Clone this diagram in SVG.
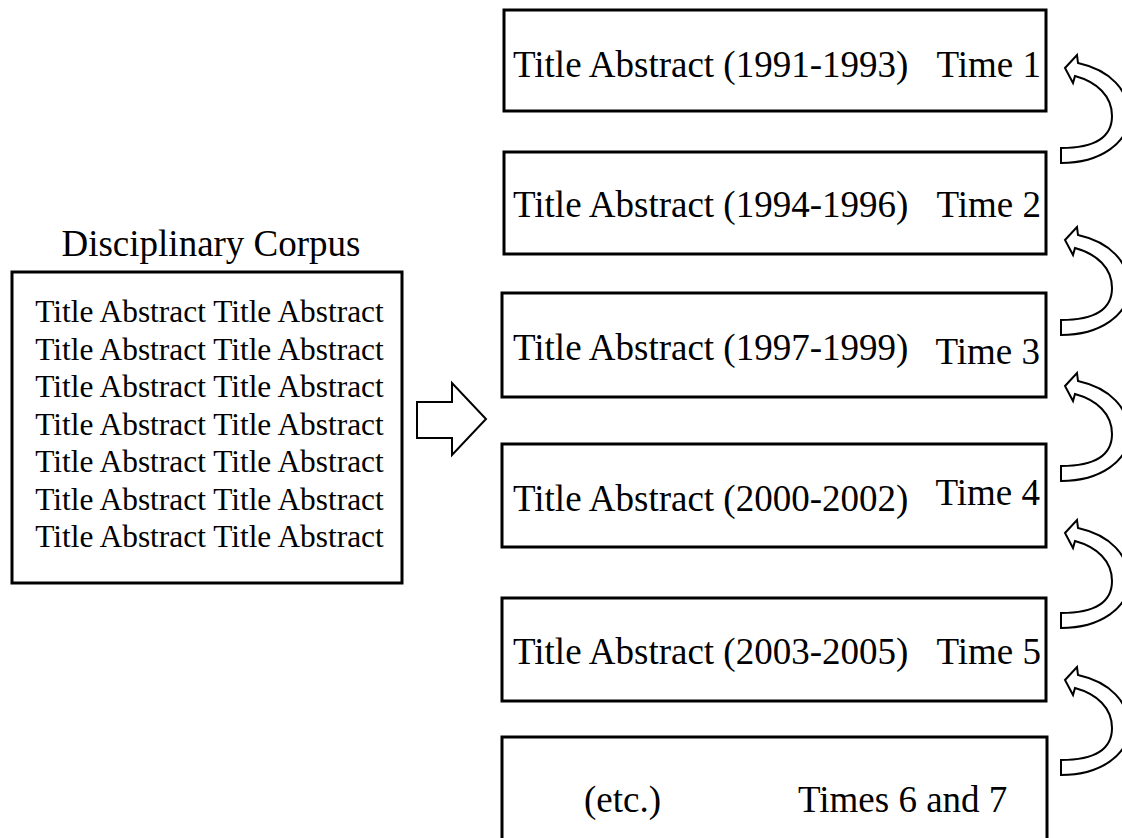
<svg xmlns="http://www.w3.org/2000/svg" width="1122" height="838" viewBox="0 0 1122 838">
<style>
.box{fill:#fff;stroke:#000;stroke-width:3}
.t{font-family:"Liberation Serif","Times New Roman",serif;fill:#000}
.big{font-size:37px}
.small{font-size:31.4px}
.arr{fill:#fff;stroke:#000;stroke-width:2;stroke-linejoin:miter}
</style>
<defs>
<path id="curve" class="arr" d="M0,0 L12,-13 L13,-5 C45,2 64,22 64,48 C64,75 35,95 -4,95 L-4,80 C28,80 47,70 47,48 C47,28 32,14 10,8 L8,15 Z"/>
</defs>
<rect width="1122" height="838" fill="#fff"/>
<g id="corpus">
<text class="t big" x="211" y="256" text-anchor="middle">Disciplinary Corpus</text>
<rect class="box" x="12" y="272" width="390" height="311"/>
<g class="t small" text-anchor="middle">
<text x="209.5" y="322">Title Abstract Title Abstract</text>
<text x="209.5" y="359.5">Title Abstract Title Abstract</text>
<text x="209.5" y="397">Title Abstract Title Abstract</text>
<text x="209.5" y="434.5">Title Abstract Title Abstract</text>
<text x="209.5" y="472">Title Abstract Title Abstract</text>
<text x="209.5" y="509.5">Title Abstract Title Abstract</text>
<text x="209.5" y="547">Title Abstract Title Abstract</text>
</g>
</g>
<g id="time1">
<rect class="box" x="504" y="10" width="542" height="101"/>
<text class="t big" x="513" y="77">Title Abstract (1991-1993)</text>
<text class="t big" x="1041" y="77" text-anchor="end">Time 1</text>
</g>
<g id="time2">
<rect class="box" x="504" y="152" width="542" height="102"/>
<text class="t big" x="513" y="217">Title Abstract (1994-1996)</text>
<text class="t big" x="1041" y="217" text-anchor="end">Time 2</text>
</g>
<g id="time3">
<rect class="box" x="502" y="293" width="544" height="104"/>
<text class="t big" x="513" y="360">Title Abstract (1997-1999)</text>
<text class="t big" x="1040" y="364" text-anchor="end">Time 3</text>
</g>
<g id="time4">
<rect class="box" x="502" y="444" width="544" height="103"/>
<text class="t big" x="513" y="511">Title Abstract (2000-2002)</text>
<text class="t big" x="1040" y="505" text-anchor="end">Time 4</text>
</g>
<g id="time5">
<rect class="box" x="502" y="598" width="544" height="103"/>
<text class="t big" x="513" y="664">Title Abstract (2003-2005)</text>
<text class="t big" x="1041" y="664" text-anchor="end">Time 5</text>
</g>
<g id="time67">
<rect class="box" x="502" y="737" width="545" height="120"/>
<text class="t big" x="584" y="812">(etc.)</text>
<text class="t big" x="798" y="812">Times 6 and 7</text>
</g>
<g id="connectors">
<path class="arr" d="M417,402 L452,402 L452,383 L486,419 L452,455 L452,438 L417,438 Z"/>
<use href="#curve" x="1065" y="68"/>
<use href="#curve" x="1065" y="240"/>
<use href="#curve" x="1065" y="386"/>
<use href="#curve" x="1065" y="533"/>
<use href="#curve" x="1065" y="680"/>
</g>
</svg>
